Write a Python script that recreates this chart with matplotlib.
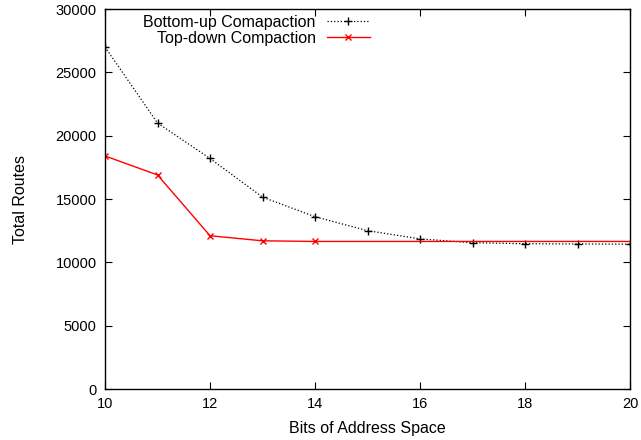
import matplotlib
matplotlib.use("Agg")
import matplotlib.pyplot as plt

plt.rcParams['font.family'] = ['Liberation Sans', 'DejaVu Sans']

# address space bits
bits = [10, 11, 12, 13, 14, 15, 16, 17, 18, 19, 20]
# total routes after each compaction scheme
bottom_up = [27000, 21000, 18200, 15150, 13600, 12500, 11850, 11550, 11470, 11450, 11430]
top_down_bits = [10, 11, 12, 13, 14, 20]
top_down = [18400, 16900, 12100, 11700, 11650, 11650]

fig = plt.figure(figsize=(6.41, 4.40), dpi=100)
ax = fig.add_axes([0.1638, 0.1159, 0.8192, 0.8636])

ax.plot(bits, bottom_up, color='black', linestyle=':', linewidth=0.9,
        marker='+', markersize=6, markeredgewidth=1.0, label='Bottom-up Comapaction')
ax.plot(top_down_bits, top_down, color='red', linestyle='-', linewidth=1.0,
        marker='x', markersize=5, markeredgewidth=1.0, markevery=[0, 1, 2, 3, 4],
        label='Top-down Compaction')

ax.set_xlim(10, 20)
ax.set_ylim(0, 30000)
ax.set_xticks([10, 12, 14, 16, 18, 20])
ax.set_yticks(range(0, 30001, 5000))
ax.tick_params(direction='in', top=True, right=True, length=5, labelsize=10.5, pad=6)
for s in ax.spines.values():
    s.set_linewidth(1.0)

ax.set_xlabel('Bits of Address Space', fontsize=11.5, labelpad=7)
ax.set_ylabel('Total Routes', fontsize=11.5, labelpad=20)

ax.legend(loc='upper right', bbox_to_anchor=(0.532, 1.022), frameon=False,
          markerfirst=False, fontsize=11.5, handlelength=2.7,
          labelspacing=0.05, handletextpad=0.7)

fig.savefig('out.png', dpi=100)
